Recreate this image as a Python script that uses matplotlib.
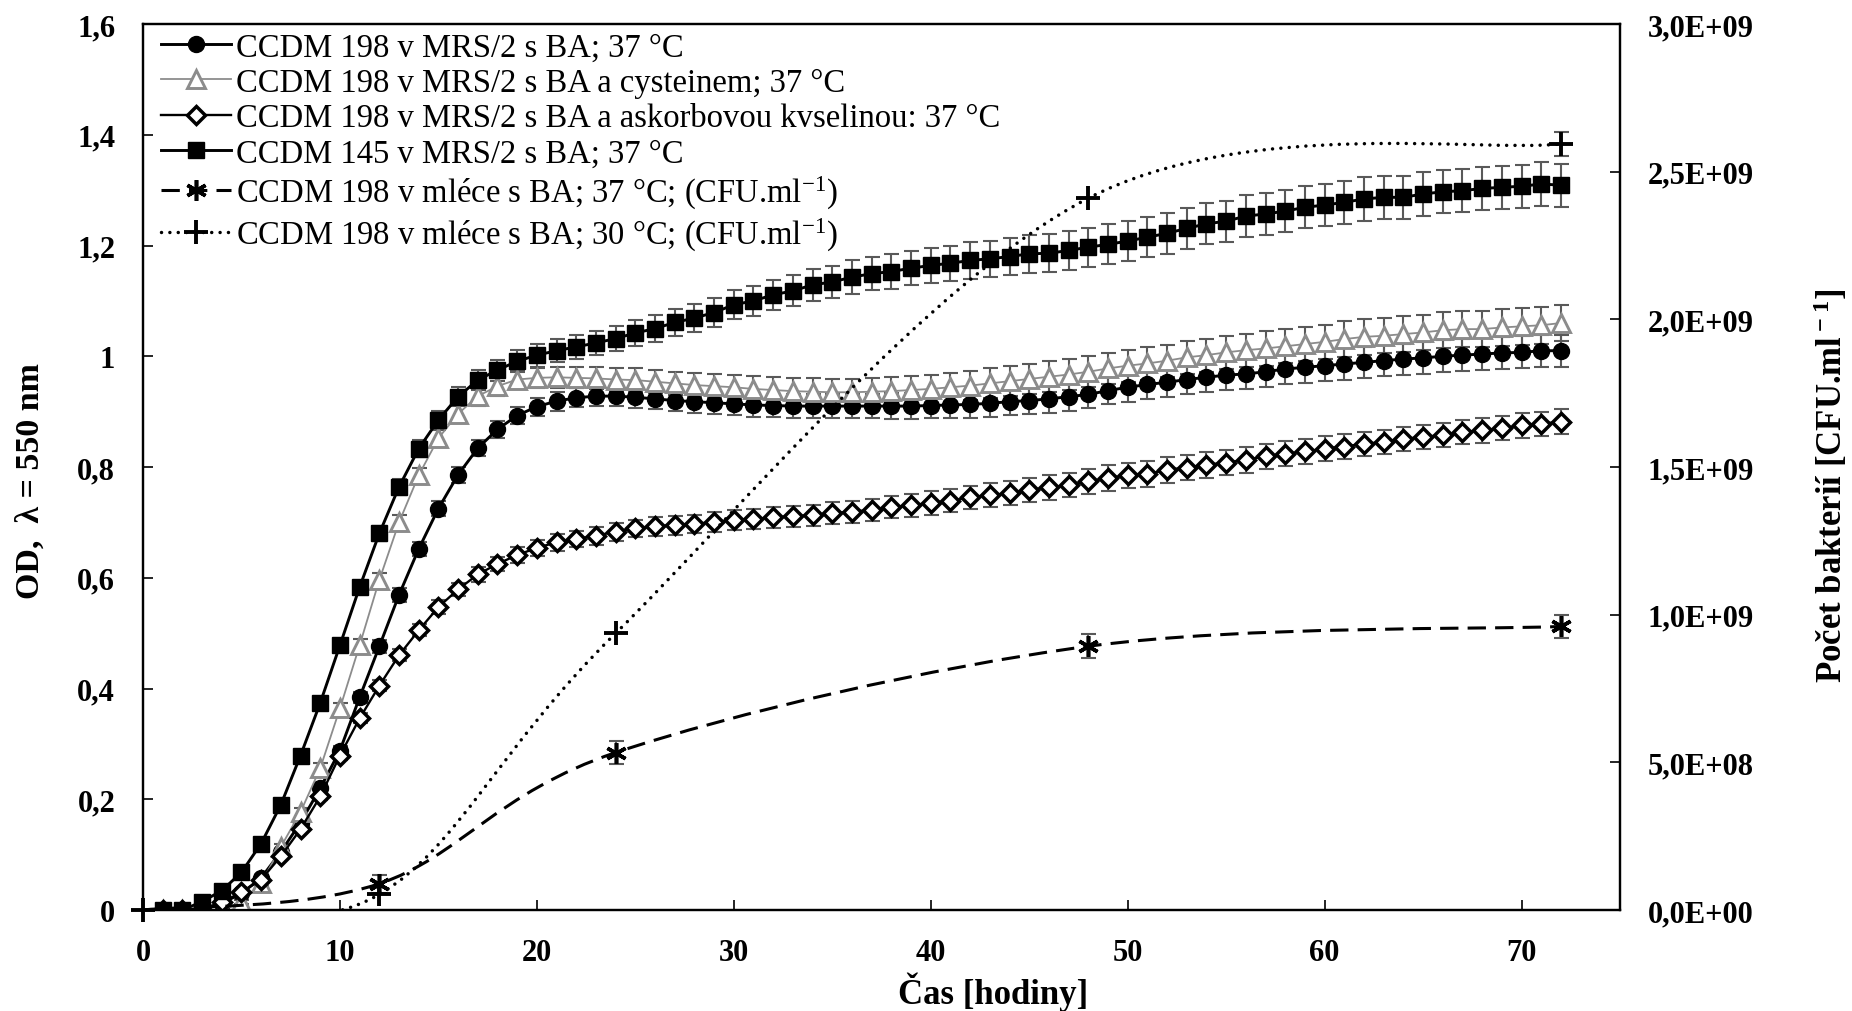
import numpy as np
import matplotlib
matplotlib.use("Agg")
import matplotlib.pyplot as plt
from matplotlib.path import Path
from matplotlib.patches import PathPatch
from matplotlib.lines import Line2D
from matplotlib.ticker import FuncFormatter, MultipleLocator

plt.rcParams['font.family'] = ['Liberation Serif', 'DejaVu Serif']
plt.rcParams['mathtext.fontset'] = 'custom'
plt.rcParams['mathtext.rm'] = 'Liberation Serif'
plt.rcParams['mathtext.bf'] = 'Liberation Serif:bold'
plt.rcParams['mathtext.default'] = 'regular'

# --- data ---
hours = list(range(1, 73))

od_198 = [
    0.0, 0.0, 0.003, 0.012, 0.030, 0.058, 0.105, 0.158, 0.220, 0.288, 0.384, 0.476,
    0.569, 0.652, 0.725, 0.786, 0.834, 0.868, 0.893, 0.909, 0.919, 0.925, 0.928, 0.928,
    0.926, 0.923, 0.920, 0.918, 0.916, 0.914, 0.912, 0.911, 0.910, 0.910, 0.910, 0.910,
    0.910, 0.910, 0.910, 0.911, 0.912, 0.913, 0.915, 0.918, 0.920, 0.923, 0.927, 0.931,
    0.938, 0.944, 0.949, 0.953, 0.958, 0.962, 0.966, 0.968, 0.972, 0.977, 0.980, 0.983,
    0.986, 0.989, 0.992, 0.995, 0.997, 1.000, 1.002, 1.004, 1.006, 1.007, 1.010, 1.010,
]
od_198_cys = [
    0.0, 0.0, 0.0, 0.0, 0.014, 0.048, 0.114, 0.177, 0.256, 0.364, 0.478, 0.596,
    0.700, 0.785, 0.852, 0.896, 0.928, 0.946, 0.958, 0.961, 0.962, 0.961, 0.960, 0.958,
    0.957, 0.954, 0.951, 0.948, 0.946, 0.944, 0.941, 0.939, 0.937, 0.936, 0.935, 0.935,
    0.936, 0.937, 0.939, 0.941, 0.944, 0.947, 0.951, 0.955, 0.959, 0.963, 0.967, 0.972,
    0.978, 0.983, 0.987, 0.992, 0.998, 1.002, 1.007, 1.011, 1.014, 1.018, 1.022, 1.026,
    1.031, 1.035, 1.037, 1.040, 1.043, 1.047, 1.049, 1.049, 1.052, 1.054, 1.056, 1.060,
]
od_198_asc = [
    0.0, 0.0, 0.0, 0.014, 0.032, 0.055, 0.097, 0.146, 0.205, 0.279, 0.346, 0.405,
    0.460, 0.505, 0.547, 0.579, 0.606, 0.625, 0.641, 0.654, 0.664, 0.670, 0.676, 0.683,
    0.689, 0.693, 0.695, 0.697, 0.701, 0.705, 0.706, 0.709, 0.711, 0.713, 0.717, 0.719,
    0.723, 0.727, 0.731, 0.735, 0.739, 0.745, 0.749, 0.753, 0.759, 0.763, 0.767, 0.774,
    0.780, 0.785, 0.787, 0.795, 0.799, 0.804, 0.808, 0.813, 0.819, 0.824, 0.828, 0.833,
    0.837, 0.842, 0.845, 0.851, 0.854, 0.858, 0.863, 0.866, 0.870, 0.875, 0.878, 0.882,
]
od_145 = [
    0.0, 0.0, 0.015, 0.035, 0.068, 0.120, 0.190, 0.279, 0.374, 0.478, 0.583, 0.680,
    0.764, 0.833, 0.885, 0.927, 0.957, 0.975, 0.991, 1.002, 1.010, 1.017, 1.024, 1.032,
    1.042, 1.050, 1.061, 1.069, 1.079, 1.093, 1.100, 1.111, 1.118, 1.129, 1.134, 1.143,
    1.149, 1.153, 1.159, 1.164, 1.168, 1.173, 1.176, 1.180, 1.185, 1.186, 1.191, 1.197,
    1.202, 1.208, 1.215, 1.222, 1.231, 1.239, 1.244, 1.253, 1.257, 1.262, 1.269, 1.273,
    1.278, 1.284, 1.287, 1.287, 1.293, 1.297, 1.299, 1.303, 1.305, 1.307, 1.311, 1.309,
]

err_198 = [
    0.001, 0.001, 0.002, 0.003, 0.004, 0.005, 0.006, 0.007, 0.008, 0.009, 0.010, 0.011,
    0.012, 0.012, 0.013, 0.014, 0.015, 0.015, 0.016, 0.016, 0.017, 0.017, 0.018, 0.018,
    0.019, 0.019, 0.019, 0.020, 0.020, 0.020, 0.021, 0.021, 0.021, 0.022, 0.022, 0.022,
    0.022, 0.023, 0.023, 0.023, 0.024, 0.024, 0.024, 0.024, 0.025, 0.025, 0.025, 0.025,
    0.025, 0.026, 0.026, 0.026, 0.026, 0.027, 0.027, 0.027, 0.027, 0.027, 0.028, 0.028,
    0.028, 0.028, 0.028, 0.028, 0.029, 0.029, 0.029, 0.029, 0.029, 0.029, 0.029, 0.029,
]
err_198_cys = [
    0.001, 0.001, 0.002, 0.003, 0.004, 0.005, 0.006, 0.007, 0.009, 0.010, 0.011, 0.012,
    0.013, 0.014, 0.015, 0.016, 0.017, 0.017, 0.018, 0.018, 0.019, 0.019, 0.020, 0.020,
    0.021, 0.021, 0.021, 0.022, 0.022, 0.022, 0.023, 0.023, 0.023, 0.024, 0.024, 0.024,
    0.025, 0.025, 0.025, 0.026, 0.026, 0.026, 0.027, 0.027, 0.027, 0.028, 0.028, 0.028,
    0.028, 0.029, 0.029, 0.029, 0.030, 0.030, 0.030, 0.030, 0.031, 0.031, 0.031, 0.031,
    0.032, 0.032, 0.032, 0.032, 0.032, 0.033, 0.033, 0.033, 0.033, 0.033, 0.033, 0.033,
]
err_198_asc = [
    0.001, 0.001, 0.001, 0.002, 0.003, 0.004, 0.005, 0.006, 0.007, 0.008, 0.009, 0.010,
    0.011, 0.011, 0.012, 0.012, 0.013, 0.013, 0.014, 0.014, 0.015, 0.015, 0.016, 0.016,
    0.016, 0.017, 0.017, 0.017, 0.018, 0.018, 0.018, 0.019, 0.019, 0.019, 0.020, 0.020,
    0.020, 0.020, 0.021, 0.021, 0.021, 0.021, 0.022, 0.022, 0.022, 0.022, 0.022, 0.023,
    0.023, 0.023, 0.023, 0.023, 0.023, 0.023, 0.023, 0.023, 0.023, 0.023, 0.023, 0.023,
    0.022, 0.022, 0.022, 0.022, 0.022, 0.022, 0.022, 0.022, 0.022, 0.022, 0.022, 0.022,
]
err_145 = [
    0.002, 0.002, 0.003, 0.004, 0.005, 0.006, 0.008, 0.009, 0.010, 0.011, 0.012, 0.013,
    0.014, 0.015, 0.016, 0.017, 0.018, 0.019, 0.020, 0.021, 0.021, 0.022, 0.022, 0.023,
    0.024, 0.024, 0.025, 0.025, 0.026, 0.026, 0.027, 0.027, 0.028, 0.029, 0.029, 0.030,
    0.030, 0.031, 0.031, 0.032, 0.032, 0.033, 0.033, 0.033, 0.034, 0.034, 0.035, 0.035,
    0.036, 0.036, 0.036, 0.037, 0.037, 0.037, 0.037, 0.038, 0.038, 0.038, 0.038, 0.038,
    0.039, 0.039, 0.039, 0.039, 0.039, 0.039, 0.039, 0.039, 0.039, 0.039, 0.039, 0.039,
]

cfu_hours = [0, 12, 24, 48, 72]
cfu_milk_37 = [0.0, 8.9e7, 5.33e8, 8.93e8, 9.6e8]
cfu_milk_30 = [0.0, 5.3e7, 9.37e8, 2.41e9, 2.594e9]
cfu_err_37 = [0.0, 3e7, 4e7, 4e7, 4e7]
cfu_err_30 = [0.0, 0.0, 0.0, 0.0, 4e7]

labels = [
    'CCDM 198 v MRS/2 s BA; 37 °C',
    'CCDM 198 v MRS/2 s BA a cysteinem; 37 °C',
    'CCDM 198 v MRS/2 s BA a askorbovou kvselinou: 37 °C',
    'CCDM 145 v MRS/2 s BA; 37 °C',
    'CCDM 198 v mléce s BA; 37 °C; (CFU.ml$^{-1}$)',
    'CCDM 198 v mléce s BA; 30 °C; (CFU.ml$^{-1}$)',
]


def smooth_path(x, y):
    # Excel-like smoothed line (Catmull-Rom as cubic Bezier)
    pts = np.column_stack([x, y]).astype(float)
    n = len(pts)
    verts = [pts[0]]
    codes = [Path.MOVETO]
    for i in range(n - 1):
        p0 = pts[max(i - 1, 0)]
        p1 = pts[i]
        p2 = pts[i + 1]
        p3 = pts[min(i + 2, n - 1)]
        verts += [p1 + (p2 - p0) / 6.0, p2 - (p3 - p1) / 6.0, p2]
        codes += [Path.CURVE4] * 3
    return Path(verts, codes)


fig = plt.figure(figsize=(18.52, 10.12), dpi=100)
ax = fig.add_axes([143 / 1852, 101 / 1012, 1477 / 1852, 886 / 1012])
ax2 = ax.twinx()

ecol = '#595959'
ebar = dict(fmt='none', ecolor=ecol, elinewidth=1.5, capsize=5.4, capthick=1.5, zorder=2)
gray = '#8c8c8c'

ax.errorbar(hours, od_198, yerr=err_198, **ebar)
ax.errorbar(hours, od_198_cys, yerr=err_198_cys, **ebar)
ax.errorbar(hours, od_198_asc, yerr=err_198_asc, **ebar)
ax.errorbar(hours, od_145, yerr=err_145, **ebar)

st_circ = dict(color='black', lw=2.1, marker='o', ms=11.5, mfc='black', mec='black')
st_tri = dict(color=gray, lw=1.3, marker='^', ms=12.5, mfc='white', mec=gray, mew=2.1)
st_dia = dict(color='black', lw=1.7, marker='D', ms=9.2, mfc='white', mec='black', mew=2.5)
st_sq = dict(color='black', lw=2.1, marker='s', ms=11.5, mfc='black', mec='black')

ax.plot(hours, od_198, zorder=3, **st_circ)
ax.plot(hours, od_198_cys, zorder=3, **st_tri)
ax.plot(hours, od_198_asc, zorder=3, **st_dia)
ax.plot(hours, od_145, zorder=3, **st_sq)

# CFU series on the right axis
dash_ls = (0, (6, 3.0))
dot_ls = (0, (0.01, 2.4))
ax2.add_patch(PathPatch(smooth_path(cfu_hours, cfu_milk_37), fill=False, ec='black',
                        lw=2.2, ls=dash_ls, capstyle='butt'))
ax2.add_patch(PathPatch(smooth_path(cfu_hours, cfu_milk_30), fill=False, ec='black',
                        lw=2.5, ls=dot_ls, capstyle='round'))
ax2.errorbar(cfu_hours, cfu_milk_37, yerr=cfu_err_37, **ebar)
ax2.errorbar(cfu_hours, cfu_milk_30, yerr=cfu_err_30, **ebar)
st_ast = dict(color='black', ls=dash_ls, lw=2.2, marker=(6, 2, 0), ms=15, mew=2.6, mec='black')
st_plus = dict(color='black', ls=dot_ls, lw=2.5, marker='+', ms=17, mew=2.8, mec='black',
               dash_capstyle='round')
ax2.plot(cfu_hours[1:], cfu_milk_37[1:], marker=(6, 2, 0), ms=15, mew=2.6, color='black',
         ls='none', zorder=4)
ax2.plot(cfu_hours, cfu_milk_30, marker='+', ms=17, mew=2.8, color='black', ls='none',
         zorder=4, clip_on=False)

# axes
ax.set_xlim(0, 75)
ax.set_ylim(0, 1.6)
ax2.set_ylim(0, 3.0e9)
ax.xaxis.set_major_locator(MultipleLocator(10))
ax.yaxis.set_major_locator(MultipleLocator(0.2))
ax2.yaxis.set_major_locator(MultipleLocator(5e8))
ax.yaxis.set_major_formatter(FuncFormatter(lambda v, p: '{:g}'.format(round(v, 2)).replace('.', ',')))
ax2.yaxis.set_major_formatter(FuncFormatter(lambda v, p: '{:.1E}'.format(v).replace('.', ',')))

for a in (ax, ax2):
    for s in a.spines.values():
        s.set_linewidth(1.6)
ax.tick_params(axis='x', direction='in', length=7, width=1.2, pad=20, top=False)
ax.tick_params(axis='y', direction='in', length=7, width=1.2, pad=20, right=False)
ax2.tick_params(axis='y', direction='in', length=7, width=1.2, pad=20)
for lab in ax.get_xticklabels() + ax.get_yticklabels() + ax2.get_yticklabels():
    lab.set_fontsize(22)
    lab.set_fontweight('bold')

ax.set_xlabel('Čas [hodiny]', fontsize=25, fontweight='bold', va='center')
ax.xaxis.set_label_coords((993 - 143) / 1477, (911 - 992) / 886)
ax.set_ylabel('OD,  λ = 550 nm', fontsize=24.5, fontweight='bold', va='center')
ax.yaxis.set_label_coords((30 - 143) / 1477, (911 - 481) / 886)
ax2.set_ylabel('Počet bakterií [CFU.ml$^{\\bf -1}$]', fontsize=25, fontweight='bold',
               va='center', rotation=90)
ax2.yaxis.set_label_coords((1831 - 143) / 1477, (911 - 486) / 886)

handles = [
    Line2D([], [], **st_circ),
    Line2D([], [], **st_tri),
    Line2D([], [], **st_dia),
    Line2D([], [], **st_sq),
    Line2D([], [], **st_ast),
    Line2D([], [], **st_plus),
]
leg = ax2.legend(handles, labels, loc='upper left', bbox_to_anchor=(161 / 1852, 1 - 33 / 1012),
                 bbox_transform=fig.transFigure, frameon=False, fontsize=23.5,
                 labelspacing=0.15, handlelength=2.15, handletextpad=0.15, borderpad=0,
                 borderaxespad=0)

fig.savefig('out.png', dpi=100)
